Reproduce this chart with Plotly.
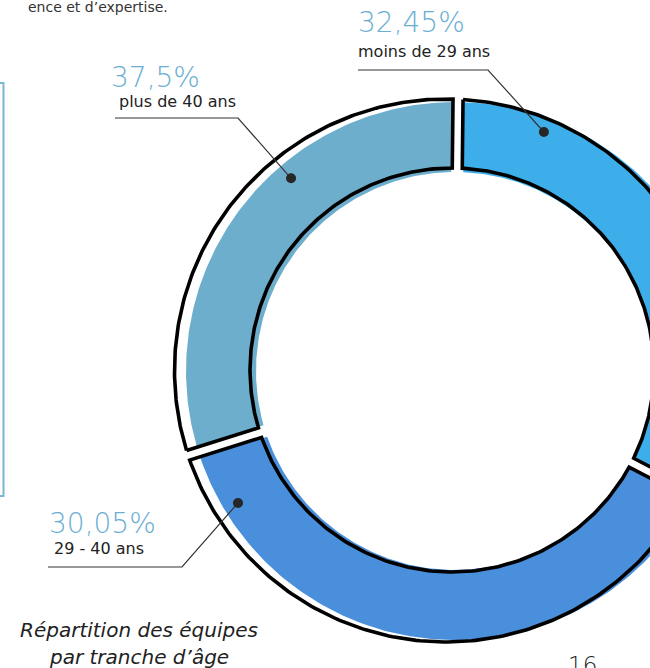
import numpy as np
import plotly.graph_objects as go

# ---------------- data ----------------
categories = ["moins de 29 ans", "29 - 40 ans", "plus de 40 ans"]
arc_shares = [32.45, 37.5, 30.05]          # arc sizes as drawn, clockwise from 12 o'clock
pct_labels = ["32,45%", "30,05%", "37,5%"]  # percentage texts printed next to each arc
caption_lines = ["Répartition des équipes", "par tranche d’âge"]
top_text = "ence et d’expertise."
page_number = "16"

# ---------------- styles / layout constants ----------------
W, H = 650, 668
FONT = "DejaVu Sans"
slice_colors = ["#3daee9", "#4a8fdb", "#6eaecd"]
PCT_COLOR = "#6aaed3"
TXT_COLOR = "#222222"
O = np.array([455.0, 371.0])          # fill ring centre
R_FILL, r_FILL, G_FILL = 269.0, 199.0, 12.0
C_OUT, R_OUT = np.array([446.0, 370.5]), 271.5   # outline outer arc
C_IN, r_IN = np.array([452.0, 370.0]), 202.0     # outline inner arc
G_LINE = 10.0
ROT = 0.64

# label placement per category: (dot angle, dot radius, elbow, end, text anchors)
label_pos = [
    dict(ang=20.4, rad=255, elbow=(488, 70), end=(358, 70), px=356, py=22, lx=356, ly=51),
    dict(ang=238.7, rad=254, elbow=(182, 567), end=(48, 567), px=47, py=523, lx=52, ly=548),
    dict(ang=319.6, rad=253, elbow=(238, 118), end=(115, 118), px=109, py=77, lx=117, ly=101),
]


def gap_angles(shares):
    tot = float(sum(shares))
    return np.concatenate([[0.0], np.cumsum(shares)]) / tot * 360.0 + ROT


def edge_angle(phi, c, rho, s):
    ph = np.radians(phi)
    n = np.array([np.cos(ph), np.sin(ph)])
    d = float(np.dot(c - O, n))
    return phi + np.degrees(np.arcsin((s - d) / rho))


def arc(c, rho, a0, a1, npts=160):
    t = np.radians(np.linspace(a0, a1, npts))
    return c[0] + rho * np.sin(t), c[1] - rho * np.cos(t)


def ring_slice(phi0, phi1, c_out, R, c_in, r, g):
    o0, o1 = edge_angle(phi0, c_out, R, g / 2), edge_angle(phi1, c_out, R, -g / 2)
    i0, i1 = edge_angle(phi0, c_in, r, g / 2), edge_angle(phi1, c_in, r, -g / 2)
    xo, yo = arc(c_out, R, o0, o1)
    xi, yi = arc(c_in, r, i1, i0)
    x = np.concatenate([xo, xi, xo[:1]])
    y = np.concatenate([yo, yi, yo[:1]])
    return x, y


fig = go.Figure()
phis = gap_angles(arc_shares)

# coloured fills
for k, cat in enumerate(categories):
    x, y = ring_slice(phis[k], phis[k + 1], O, R_FILL, O, r_FILL, G_FILL)
    fig.add_trace(go.Scatter(x=x, y=y, mode="lines", fill="toself",
                             fillcolor=slice_colors[k], line=dict(width=0),
                             hoverinfo="skip", showlegend=False, name=cat))

# black offset outlines
for k, cat in enumerate(categories):
    x, y = ring_slice(phis[k], phis[k + 1], C_OUT, R_OUT, C_IN, r_IN, G_LINE)
    fig.add_trace(go.Scatter(x=x, y=y, mode="lines",
                             line=dict(color="#000000", width=3.6),
                             hoverinfo="skip", showlegend=False))

# leader lines and dots
annotations = []
for k, cat in enumerate(categories):
    p = label_pos[k]
    a = np.radians(p["ang"])
    dx, dy = O[0] + p["rad"] * np.sin(a), O[1] - p["rad"] * np.cos(a)
    fig.add_trace(go.Scatter(x=[dx, p["elbow"][0], p["end"][0]],
                             y=[dy, p["elbow"][1], p["end"][1]],
                             mode="lines", line=dict(color="#333333", width=1.2),
                             hoverinfo="skip", showlegend=False))
    fig.add_trace(go.Scatter(x=[dx], y=[dy], mode="markers",
                             marker=dict(color="#262626", size=10),
                             hoverinfo="skip", showlegend=False))
    annotations.append(dict(x=p["px"], y=p["py"], xref="x", yref="y", text=pct_labels[k],
                            showarrow=False, xanchor="left", yanchor="middle",
                            font=dict(family=FONT, size=28, color=PCT_COLOR, weight=200)))
    annotations.append(dict(x=p["lx"], y=p["ly"], xref="x", yref="y", text=cat,
                            showarrow=False, xanchor="left", yanchor="middle",
                            font=dict(family=FONT, size=16, color=TXT_COLOR)))

# caption
for j, line in enumerate(caption_lines):
    annotations.append(dict(x=139, y=630 + 27 * j, xref="x", yref="y", text=f"<i>{line}</i>",
                            showarrow=False, xanchor="center", yanchor="middle",
                            font=dict(family=FONT, size=20, color=TXT_COLOR)))

annotations.append(dict(x=170, y=7, xref="x", yref="y", text=top_text, showarrow=False,
                        xanchor="right", yanchor="middle",
                        font=dict(family=FONT, size=14, color="#333333")))
annotations.append(dict(x=582, y=665, xref="x", yref="y", text=page_number, showarrow=False,
                        xanchor="center", yanchor="middle",
                        font=dict(family=FONT, size=23, color=TXT_COLOR, weight=200)))

fig.update_layout(
    width=W, height=H, margin=dict(l=0, r=0, t=0, b=0),
    paper_bgcolor="white", plot_bgcolor="white",
    xaxis=dict(range=[0, W], visible=False, fixedrange=True),
    yaxis=dict(range=[H, 0], visible=False, fixedrange=True),
    annotations=annotations,
    shapes=[dict(type="rect", xref="x", yref="y", x0=-6, x1=3.5, y0=83, y1=496,
                 line=dict(color="#7ab6d6", width=2), fillcolor="rgba(0,0,0,0)")],
)

fig.write_html("out.html", config={"displayModeBar": False},
               post_script="document.body.style.margin='0px';document.body.style.overflow='hidden';")
